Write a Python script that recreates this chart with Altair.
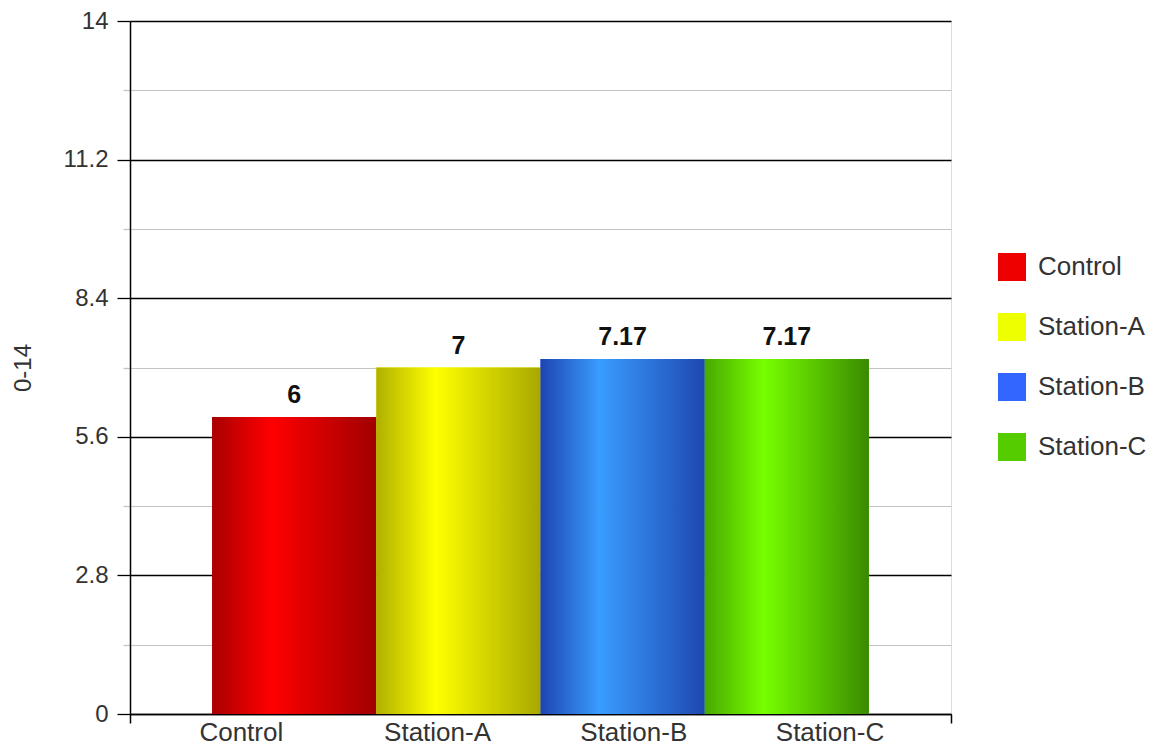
import altair as alt
import pandas as pd

categories = ["Control", "Station-A", "Station-B", "Station-C"]
values = [6, 7, 7.17, 7.17]
value_labels = ["6", "7", "7.17", "7.17"]
legend_colors = ["#ee0000", "#eeff00", "#3366ff", "#55cc00"]
gradients = [
    ["#a80000", "#ff0000", "#a00000"],
    ["#b0b000", "#ffff00", "#a8a800"],
    ["#1e44b0", "#3a9cff", "#1e48b0"],
    ["#48a800", "#77ff00", "#3a8a00"],
]
major_ticks = [0, 2.8, 5.6, 8.4, 11.2, 14]
minor_ticks = [1.4, 4.2, 7.0, 9.8, 12.6]
all_ticks = sorted(major_ticks + minor_ticks)
edge_dummy = ["edge"]

df = pd.DataFrame({"cat": categories, "val": values, "lab": value_labels})
df_edge = pd.DataFrame({"e": edge_dummy})

FONT = "Liberation Sans"
is_major = "indexof([" + ",".join(str(v) for v in major_ticks) + "], datum.value) >= 0"

yscale = alt.Scale(domain=[0, 14], nice=False, zero=True)
yaxis = alt.Axis(
    values=all_ticks,
    format=".1~f",
    labelExpr=is_major + " ? datum.label : ''",
    grid=True,
    gridColor={"condition": {"test": is_major, "value": "#000000"}, "value": "#c4c4c4"},
    gridWidth={"condition": {"test": is_major, "value": 1.3}, "value": 1},
    tickColor={"condition": {"test": is_major, "value": "#000000"}, "value": "#c4c4c4"},
    tickSize={"condition": {"test": is_major, "value": 13}, "value": 7},
    tickWidth=1.3,
    labelFontSize=24,
    labelColor="#333333",
    labelFont=FONT,
    labelPadding=9,
    domainColor="#000000",
    domainWidth=1.5,
    title="0-14",
    titleFont=FONT,
    titleFontSize=24,
    titleFontWeight="normal",
    titleColor="#333333",
    titlePadding=28,
)

xband = alt.Scale(domain=categories, paddingInner=0, paddingOuter=0.5)

base = alt.Chart(df)

bars = base.mark_bar(stroke=None).encode(
    x=alt.X("cat:N", scale=xband, axis=None, sort=categories),
    y=alt.Y("val:Q", scale=yscale, axis=yaxis),
    color=alt.Color(
        "cat:N",
        scale=alt.Scale(domain=categories, range=legend_colors),
        sort=categories,
        legend=alt.Legend(
            title=None,
            orient="none",
            legendX=868,
            legendY=232,
            symbolType="square",
            symbolSize=784,
            symbolStrokeWidth=0,
            labelFontSize=26,
            labelFont=FONT,
            labelColor="#333333",
            rowPadding=32,
            labelOffset=12,
            padding=0,
        ),
    ),
)

grad_layers = []
for cat, g in zip(categories, gradients):
    grad = {
        "gradient": "linear",
        "x1": 0, "x2": 1, "y1": 0, "y2": 0,
        "stops": [
            {"offset": 0, "color": g[0]},
            {"offset": 0.36, "color": g[1]},
            {"offset": 1, "color": g[2]},
        ],
    }
    grad_layers.append(
        base.transform_filter(alt.datum.cat == cat)
        .mark_bar(color=grad, stroke=None)
        .encode(
            x=alt.X("cat:N", scale=xband, axis=None, sort=categories),
            y=alt.Y("val:Q", scale=yscale),
        )
    )

texts = base.mark_text(
    baseline="alphabetic", dy=-14, fontSize=25, fontWeight="bold", font=FONT, color="#111111"
).encode(
    x=alt.X("cat:N", scale=xband, axis=None, sort=categories),
    y=alt.Y("val:Q", scale=yscale),
    text="lab:N",
)

bar_group = alt.layer(bars, *grad_layers, texts)

xlabels = base.mark_text(opacity=0).encode(
    x=alt.X(
        "cat:N",
        sort=categories,
        scale=alt.Scale(type="point", domain=categories, padding=0.592, align=0.477),
        axis=alt.Axis(
            orient="bottom",
            title=None,
            ticks=False,
            labelAngle=0,
            labelFontSize=26,
            labelFont=FONT,
            labelColor="#333333",
            labelPadding=5,
            domainColor="#000000",
            domainWidth=1.5,
            grid=False,
        ),
    ),
    y=alt.value(300),
    text="lab:N",
)

edge_ticks = alt.Chart(df_edge).mark_text(opacity=0).encode(
    x=alt.X(
        "e:N",
        scale=alt.Scale(type="band", domain=edge_dummy, paddingInner=0, paddingOuter=0),
        axis=alt.Axis(
            orient="bottom",
            title=None,
            labels=False,
            domain=False,
            grid=False,
            ticks=True,
            tickBand="extent",
            tickSize=9,
            tickColor="#000000",
            tickWidth=1.5,
        ),
    ),
    y=alt.value(300),
    text="e:N",
)

chart = (
    alt.layer(bar_group, xlabels, edge_ticks)
    .resolve_scale(x="independent")
    .properties(
        width=821,
        height=693,
        autosize=alt.AutoSizeParams(type="none"),
        padding={"left": 122, "top": 13, "right": 200, "bottom": 40},
    )
    .configure_view(stroke="#333333", strokeWidth=1.5)
    .configure(background="white")
)

chart.save("out.html", embed_options={"renderer": "svg", "actions": False})
